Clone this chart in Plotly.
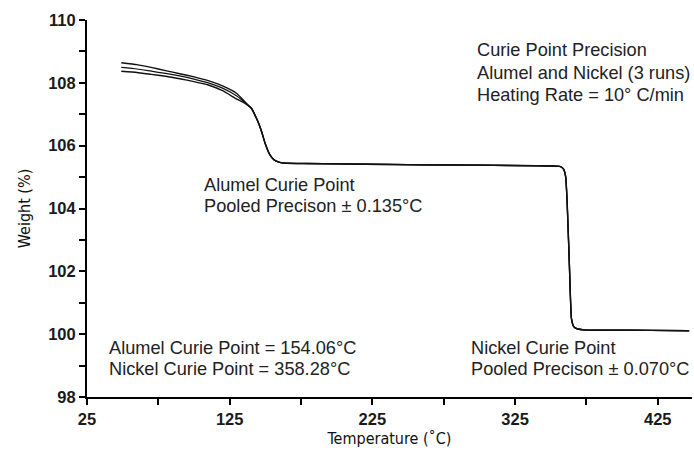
import plotly.graph_objects as go

# ---- data ----
early_temp = [49, 60, 70, 80, 90, 100, 110, 120, 130, 136]
run1_early = [108.64, 108.58, 108.49, 108.39, 108.29, 108.19, 108.07, 107.90, 107.66, 107.38]
run2_early = [108.49, 108.44, 108.37, 108.30, 108.22, 108.12, 108.00, 107.83, 107.58, 107.36]
run3_early = [108.37, 108.33, 108.27, 108.21, 108.13, 108.04, 107.93, 107.75, 107.48, 107.34]

common_temp = [140, 144, 147, 150, 153, 156, 160, 165, 180, 220, 260, 300, 340, 354,
               357, 359, 360.5, 361.5, 363, 364.5, 366, 368, 375, 400, 420, 447]
common_weight = [107.20, 106.85, 106.50, 106.05, 105.72, 105.55, 105.47, 105.44, 105.43,
                 105.41, 105.39, 105.38, 105.36, 105.35, 105.33, 105.25, 105.00, 104.20,
                 102.30, 100.50, 100.25, 100.18, 100.13, 100.13, 100.12, 100.11]

runs = {"Run 1": run1_early, "Run 2": run2_early, "Run 3": run3_early}

x_ticks = [25, 125, 225, 325, 425]
y_ticks = [98, 100, 102, 104, 106, 108, 110]

notes = [
    (296.8, 109.04, "Curie Point Precision"),
    (296.8, 108.30, "Alumel and Nickel (3 runs)"),
    (296.8, 107.60, "Heating Rate = 10° C/min"),
    (105.4, 104.76, "Alumel Curie Point"),
    (105.4, 104.07, "Pooled Precison ± 0.135°C"),
    (39.2, 99.57, "Alumel Curie Point = 154.06°C"),
    (39.2, 98.88, "Nickel Curie Point = 358.28°C"),
    (292.8, 99.57, "Nickel Curie Point"),
    (292.8, 98.90, "Pooled Precison ± 0.070°C"),
]

fig = go.Figure()
widths = [1.4, 1.2, 1.4]
for (name, early), w in zip(runs.items(), widths):
    fig.add_trace(go.Scatter(
        x=early_temp + common_temp,
        y=early + common_weight,
        mode="lines", name=name,
        line=dict(color="#111111", width=w, shape="spline", smoothing=0.4),
        showlegend=False, hoverinfo="x+y",
    ))

for x, y, t in notes:
    fig.add_annotation(x=x, y=y, text=t, showarrow=False, xanchor="left", yanchor="middle",
                       font=dict(family="Liberation Sans, Arial, sans-serif", size=18.2, color="#222222"))

axis_common = dict(
    showline=True, linecolor="black", linewidth=2, mirror=False,
    ticks="outside", ticklen=6, tickwidth=2, tickcolor="black",
    showgrid=False, zeroline=False, automargin=False,
    tickfont=dict(family="Liberation Sans, Arial, sans-serif", size=16.5, color="#1a1a1a", weight="bold"),
)

title_font = dict(family="DejaVu Sans Condensed, sans-serif", size=16, color="#111111")

fig.update_xaxes(
    range=[25, 449], tickmode="array", tickvals=x_ticks, ticktext=[str(v) for v in x_ticks],
    minor=dict(tickmode="array", tickvals=[75, 175, 275, 375], ticks="outside", ticklen=6,
               tickwidth=2, tickcolor="black"),
    title=dict(text="Temperature (˚C)", standoff=6, font=title_font),
    **axis_common,
)
fig.update_yaxes(
    range=[98, 110], tickmode="array", tickvals=y_ticks, ticktext=[str(v) for v in y_ticks],
    minor=dict(tickmode="array", tickvals=[99, 101, 103, 105, 107, 109], ticks="outside", ticklen=6,
               tickwidth=2, tickcolor="black"),
    ticklabelstandoff=0,
    title=dict(text="Weight (%)", standoff=14, font=title_font),
    **axis_common,
)

fig.update_layout(
    width=694, height=457,
    margin=dict(l=87, r=2, t=20, b=60),
    paper_bgcolor="white", plot_bgcolor="white",
)

fig.write_html("out.html", config={"displayModeBar": False},
               post_script="document.body.style.margin='0';")
